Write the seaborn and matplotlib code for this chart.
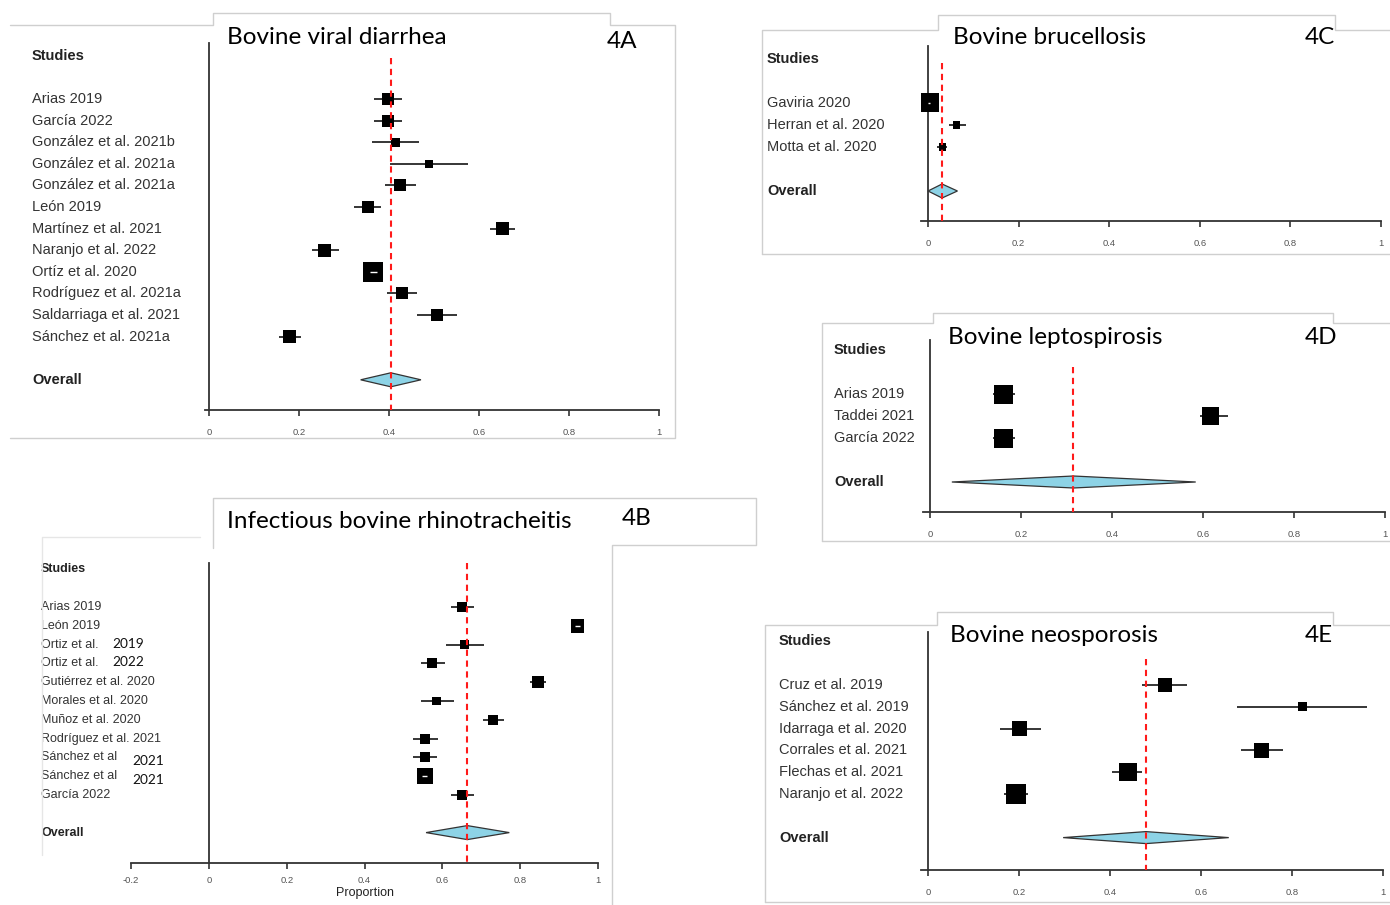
import numpy as np
import pandas as pd
import matplotlib.pyplot as plt
import matplotlib.transforms as mtransforms
from matplotlib.lines import Line2D
import seaborn as sns

# ---- values (proportion, 95% CI, weight %) ----
a_studies = ["Arias 2019", "García 2022", "González et al. 2021b", "González et al. 2021a",
             "González et al. 2021a", "León 2019", "Martínez et al. 2021", "Naranjo et al. 2022",
             "Ortíz et al. 2020", "Rodríguez et al. 2021a", "Saldarriaga et al. 2021", "Sánchez et al. 2021a"]
a_est = [0.398, 0.398, 0.415, 0.489, 0.425, 0.353, 0.652, 0.257, 0.365, 0.428, 0.506, 0.179]
a_lo = [0.366, 0.366, 0.363, 0.402, 0.391, 0.322, 0.624, 0.228, 0.357, 0.396, 0.462, 0.155]
a_hi = [0.428, 0.428, 0.466, 0.575, 0.459, 0.383, 0.681, 0.288, 0.373, 0.463, 0.552, 0.204]
a_w = [7.0, 7.0, 3.7, 2.8, 7.0, 7.0, 8.3, 8.3, 20.8, 7.0, 7.0, 8.3]
a_overall = [0.404, 0.337, 0.471]

b_studies = ["Arias 2019", "León 2019", ("Ortiz et al.", "2019"), ("Ortiz et al.", "2022"),
             "Gutiérrez et al. 2020", "Morales et al. 2020", "Muñoz et al. 2020",
             "Rodríguez et al. 2021", ("Sánchez et al", "2021"), ("Sánchez et al", "2021"), "García 2022"]
b_est = [0.650, 0.947, 0.658, 0.574, 0.847, 0.586, 0.730, 0.556, 0.555, 0.554, 0.650]
b_lo = [0.622, 0.940, 0.608, 0.546, 0.826, 0.546, 0.704, 0.524, 0.524, 0.547, 0.622]
b_hi = [0.680, 0.954, 0.706, 0.606, 0.867, 0.629, 0.759, 0.589, 0.585, 0.561, 0.680]
b_w = [7.2, 14.2, 5.7, 7.2, 10.8, 5.7, 7.2, 7.2, 7.2, 20.1, 7.2]
b_overall = [0.664, 0.558, 0.772]

c_studies = ["Gaviria 2020", "Herran et al. 2020", "Motta et al. 2020"]
c_est = [0.003, 0.064, 0.032]
c_lo = [0.001, 0.046, 0.020]
c_hi = [0.005, 0.083, 0.042]
c_w = [81.8, 9.1, 9.1]
c_overall = [0.031, 0.000, 0.065]

d_studies = ["Arias 2019", "Taddei 2021", "García 2022"]
d_est = [0.162, 0.617, 0.162]
d_lo = [0.139, 0.593, 0.139]
d_hi = [0.186, 0.655, 0.186]
d_w = [35.8, 28.3, 35.8]
d_overall = [0.315, 0.048, 0.584]

e_studies = ["Cruz et al. 2019", "Sánchez et al. 2019", "Idarraga et al. 2020",
             "Corrales et al. 2021", "Flechas et al. 2021", "Naranjo et al. 2022"]
e_est = [0.521, 0.822, 0.202, 0.733, 0.439, 0.193]
e_lo = [0.470, 0.680, 0.159, 0.687, 0.405, 0.166]
e_hi = [0.570, 0.965, 0.248, 0.780, 0.470, 0.220]
e_w = [13.3, 5.0, 15.4, 15.4, 22.7, 28.3]
e_overall = [0.479, 0.297, 0.661]

titles = ["Bovine viral diarrhea", "Infectious bovine rhinotracheitis", "Bovine brucellosis",
          "Bovine leptospirosis", "Bovine neosporosis"]
tags = ["4A", "4B", "4C", "4D", "4E"]

W, H = 1390, 905
sns.set_style("white")
plt.rcParams["font.family"] = ["Liberation Sans", "DejaVu Sans"]
fig = plt.figure(figsize=(W / 100, H / 100), dpi=100)
fig.patch.set_facecolor("white")
TITLE_FONT = ["Lato", "DejaVu Sans"]


def frame(points, color="#cfcfcf"):
    xs = [p[0] / W for p in points]
    ys = [1 - p[1] / H for p in points]
    fig.add_artist(Line2D(xs, ys, color=color, lw=1.0))


def forest(lay, studies, est, lo, hi, w, overall, title, tag):
    n = len(studies)
    unit = lay["px1"] - lay["px0"]
    left = lay["px0"] + lay["xmin"] * unit
    ax = fig.add_axes([left / W, 1 - lay["base"] / H, (lay["px1"] - left) / W,
                       (lay["base"] - lay["top"]) / H])
    ax.set_facecolor("none")
    ax.set_xlim(lay["xmin"], 1)
    ax.set_ylim((lay["base"] - lay["row0"]) / lay["dy"], (lay["top"] - lay["row0"]) / lay["dy"])

    df = pd.DataFrame({"est": est, "lo": lo, "hi": hi, "w": w, "row": np.arange(n)})
    side = lay["max_side"] * np.sqrt(df["w"] / df["w"].max()) + 1
    df["s"] = (side * 0.72) ** 2

    # confidence intervals, squares, white CI inside large squares
    ax.hlines(df["row"], df["lo"], df["hi"], color="black", lw=1.1, zorder=2)
    sns.scatterplot(data=df, x="est", y="row", marker="s", color="black", s=df["s"].values,
                    linewidth=0, ax=ax, zorder=3, legend=False)
    inside = (df["hi"] - df["lo"]) * unit < side - 2
    if inside.any():
        ax.hlines(df["row"][inside], df["lo"][inside], df["hi"][inside], color="white", lw=1.0, zorder=4)

    # summary diamond and dashed summary line
    m, l, h = overall
    yo = n + 1
    dh = lay["dh"] / lay["dy"]
    ax.fill([l, m, h, m], [yo, yo - dh, yo, yo + dh], facecolor="#8dd3e6",
            edgecolor="#333333", lw=0.9, zorder=3)
    ax.vlines(m, lay["dash_top"], (lay["base"] - lay["row0"]) / lay["dy"], color="#ff1a1a",
              lw=1.5, linestyles=(0, (3, 2.2)), zorder=5)

    # axes styling
    for sp in ["top", "right"]:
        ax.spines[sp].set_visible(False)
    ax.spines["left"].set_position(("data", 0))
    for sp in ["left", "bottom"]:
        ax.spines[sp].set_color("#333333")
        ax.spines[sp].set_linewidth(1.3)
    ticks = [t for t in [-0.2, 0, 0.2, 0.4, 0.6, 0.8, 1] if t >= lay["xmin"]]
    ax.set_xticks(ticks)
    ax.set_xticklabels(["%g" % t for t in ticks])
    ax.tick_params(axis="x", length=4, width=1.2, color="#333333", pad=lay["pad"],
                   labelsize=6.8, labelcolor="#555555", bottom=True)
    ax.set_yticks([])
    ax.set_xlabel("")
    ax.set_ylabel("")

    # study labels
    tr = mtransforms.blended_transform_factory(fig.transFigure, ax.transData)
    lx = lay["label_x"] / W
    fs = lay["fs"]
    ax.text(lx, -2, "Studies", transform=tr, fontsize=fs, fontweight="bold", color="#222222",
            va="center", clip_on=False)
    ax.text(lx, n + 1, "Overall", transform=tr, fontsize=fs, fontweight="bold", color="#222222",
            va="center", clip_on=False)
    for i, s in enumerate(studies):
        if isinstance(s, tuple):
            ax.text(lx, i, s[0], transform=tr, fontsize=fs, color="#333333", va="center", clip_on=False)
            off = lay["year_dx"][s[0]]
            ax.text(lx + off[0] / W, i + off[1], s[1], transform=tr, fontsize=fs + 0.8, color="#111111",
                    family=TITLE_FONT, va="center", clip_on=False)
        else:
            ax.text(lx, i, s, transform=tr, fontsize=fs, color="#333333", va="center", clip_on=False)

    # panel title box text
    fig.text(lay["title_xy"][0] / W, 1 - lay["title_xy"][1] / H, title, family=TITLE_FONT,
             fontsize=17.5, va="center", ha="left", color="black")
    fig.text(lay["tag_xy"][0] / W, 1 - lay["tag_xy"][1] / H, tag, family=TITLE_FONT,
             fontsize=17.5, va="center", ha="left", color="black")
    return ax


lay_a = dict(px0=209, px1=659, xmin=-0.01, row0=99, dy=21.6, top=43, base=410, label_x=32,
             max_side=19, fs=10.5, dash_top=-1.9, pad=9, dh=7, title_xy=(227, 37), tag_xy=(607, 41))
lay_b = dict(px0=209, px1=598, xmin=-0.2, row0=607, dy=18.8, top=563, base=863, label_x=41,
             max_side=15, fs=9, dash_top=-2.35, pad=5, dh=7, title_xy=(227, 522), tag_xy=(622, 518),
             year_dx={"Ortiz et al.": (71, -0.05), "Sánchez et al": (91, 0.2)})
lay_c = dict(px0=928, px1=1381, xmin=-0.015, row0=103, dy=22, top=46, base=221, label_x=767,
             max_side=18, fs=10.5, dash_top=-1.8, pad=9, dh=7, title_xy=(953, 38), tag_xy=(1305, 38))
lay_d = dict(px0=930, px1=1385, xmin=-0.015, row0=394, dy=22, top=340, base=512, label_x=834,
             max_side=18, fs=10.5, dash_top=-1.25, pad=9, dh=6, title_xy=(948, 338), tag_xy=(1305, 337))
lay_e = dict(px0=928, px1=1383, xmin=-0.015, row0=685, dy=21.8, top=632, base=870, label_x=779,
             max_side=19, fs=10.5, dash_top=-1.2, pad=9, dh=6, title_xy=(950, 636), tag_xy=(1305, 636))

forest(lay_a, a_studies, a_est, a_lo, a_hi, a_w, a_overall, titles[0], tags[0])
ax_b = forest(lay_b, b_studies, b_est, b_lo, b_hi, b_w, b_overall, titles[1], tags[1])
ax_b.set_xlabel("Proportion", fontsize=9, color="#222222", labelpad=2)
forest(lay_c, c_studies, c_est, c_lo, c_hi, c_w, c_overall, titles[2], tags[2])
forest(lay_d, d_studies, d_est, d_lo, d_hi, d_w, d_overall, titles[3], tags[3])
forest(lay_e, e_studies, e_est, e_lo, e_hi, e_w, e_overall, titles[4], tags[4])

# light grey edges of the pasted screenshot pieces
frame([(10, 25), (213, 25), (213, 13), (610, 13), (610, 25), (675, 25), (675, 438), (10, 438)])
frame([(42, 855), (42, 537), (200, 537)], color="#e6e6e6")
frame([(213, 548), (213, 498), (756, 498), (756, 545), (612, 545), (612, 905)])
frame([(762, 254), (762, 30), (938, 30), (938, 15), (1335, 15), (1335, 30), (1390, 30)])
frame([(762, 254), (1390, 254)])
frame([(822, 541), (822, 323), (933, 323), (933, 313), (1333, 313), (1333, 323), (1390, 323)])
frame([(822, 541), (1390, 541)])
frame([(765, 902), (765, 625), (937, 625), (937, 612), (1333, 612), (1333, 625), (1390, 625)])
frame([(765, 902), (1390, 902)])

fig.savefig("out.png", dpi=100)
